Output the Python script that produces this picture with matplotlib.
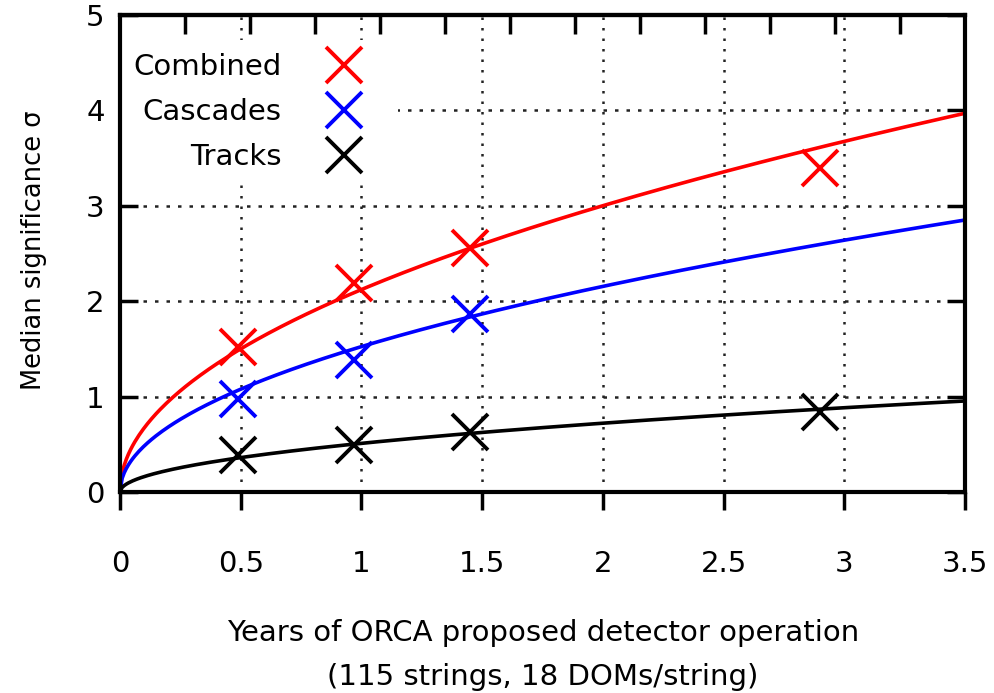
import matplotlib
matplotlib.use("Agg")
import matplotlib.pyplot as plt
import numpy as np

plt.rcParams['font.family'] = ['DejaVu Sans']

# measured points (years, median significance)
years_comb = [0.49, 0.97, 1.45, 2.90]
sig_comb = [1.52, 2.19, 2.56, 3.40]
years_casc = [0.49, 0.97, 1.45]
sig_casc = [0.98, 1.38, 1.87]
years_trk = [0.49, 0.97, 1.45, 2.90]
sig_trk = [0.39, 0.49, 0.63, 0.84]

# sqrt(t) fit curves, scale
fit_scale = {'Combined': 2.122, 'Cascades': 1.524, 'Tracks': 0.51}

xticks = [0, 0.5, 1, 1.5, 2, 2.5, 3, 3.5]
xticklabels = ['0', '0.5', '1', '1.5', '2', '2.5', '3', '3.5']
yticks = [0, 1, 2, 3, 4, 5]
top_ticks = np.arange(1, 13)  # unlabelled ticks on the top axis (range 0..13)

fs = 21
fig = plt.figure(figsize=(9.95, 6.93), dpi=100)
ax = fig.add_axes([120/995, 1-492/693, 845/995, 477/693])
ax.set_xlim(0, 3.5)
ax.set_ylim(0, 5)

# dotted grid, kept below the legend box
ax.vlines(xticks[1:-1], 0, 5, colors='#222222', linestyles=(0, (1, 3.2)), lw=1.8, zorder=1)
ax.hlines(yticks[1:-1], 0, 3.5, colors='#222222', linestyles=(0, (1.4, 3.2)), lw=1.8, zorder=1)

t = np.linspace(0, 3.5, 400)
series = [('Combined', years_comb, sig_comb, '#ff0000'),
          ('Cascades', years_casc, sig_casc, '#0000ff'),
          ('Tracks', years_trk, sig_trk, 'black')]
for name, xs, ys, c in series:
    ax.plot(t, fit_scale[name]*np.sqrt(t), color=c, lw=2.6, zorder=2)
for name, xs, ys, c in series:
    ax.plot(xs, ys, 'x', color=c, ms=26, mew=2.8, label=name, zorder=2.2)

leg = ax.legend(loc='upper left', bbox_to_anchor=(0, 1-25/477), borderaxespad=0,
                markerfirst=False, fontsize=fs, frameon=True, fancybox=False,
                facecolor='white', edgecolor='none', framealpha=1,
                handlelength=2.8, handletextpad=0.75, labelspacing=0.58,
                borderpad=0.45, numpoints=1)
leg.set_zorder(1.5)

for s in ax.spines.values():
    s.set_linewidth(3)
ax.set_xticks(xticks)
ax.set_xticklabels(xticklabels)
ax.set_yticks(yticks)
ax.tick_params(axis='x', direction='out', length=13, width=2.5, pad=29,
               labelsize=fs, top=False)
ax.tick_params(axis='y', direction='in', length=13, width=2.5, pad=11,
               labelsize=fs, left=True, right=True)

sec = ax.secondary_xaxis('top', functions=(lambda x: x*13/3.5, lambda x: x*3.5/13))
sec.set_xticks(top_ticks)
sec.tick_params(direction='in', length=14, width=2.5, labeltop=False)
sec.spines['top'].set_linewidth(3)

ax.set_ylabel('Median significance σ', fontsize=18.5)
ax.yaxis.set_label_coords(-0.086, 0.507)

fig.text(543/995, 1-633/693, 'Years of ORCA proposed detector operation',
         ha='center', va='center', fontsize=fs)
fig.text(543/995, 1-677/693, '(115 strings, 18 DOMs/string)',
         ha='center', va='center', fontsize=fs)

fig.savefig('out.png', dpi=100)
